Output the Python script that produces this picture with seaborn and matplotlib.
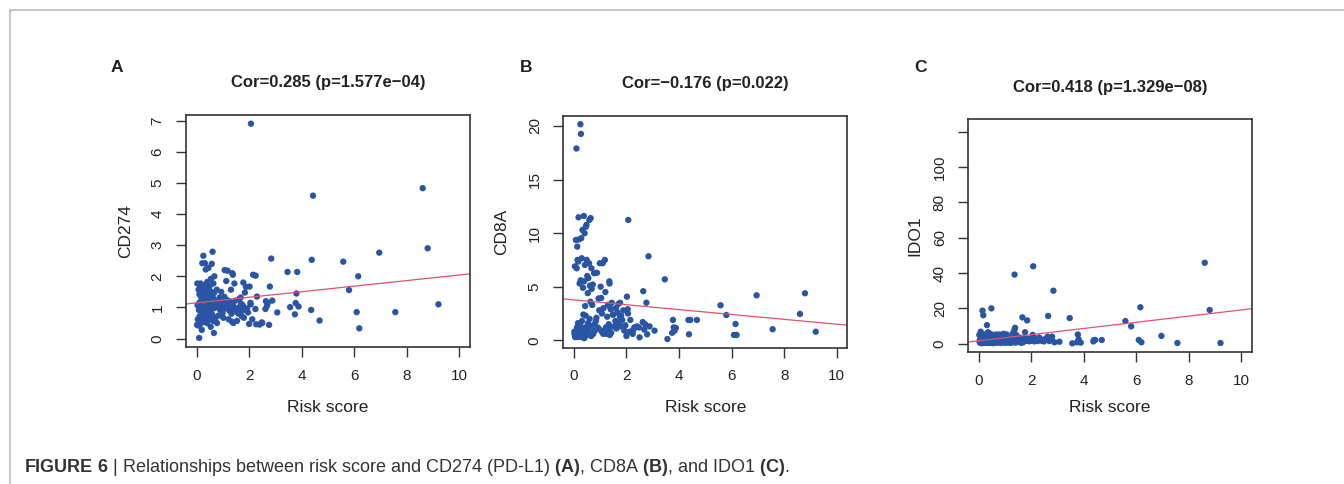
import matplotlib
matplotlib.use("Agg")
import matplotlib.pyplot as plt
from matplotlib.lines import Line2D
import seaborn as sns
import pandas as pd

# ---------------- data (shared risk score per sample) ----------------
# The last two samples lie beyond the drawn x-range (0-10); the reference's
# IDO1 axis reaching ~122 and the fitted lines show such off-scale samples.
risk = [
    0.02, 0.03, 0.04, 0.05, 0.06, 0.07, 0.08, 0.09, 0.10, 0.11,
    0.12, 0.12, 0.13, 0.14, 0.15, 0.15, 0.16, 0.17, 0.18, 0.18,
    0.19, 0.20, 0.20, 0.21, 0.22, 0.23, 0.24, 0.25, 0.26, 0.27,
    0.28, 0.29, 0.30, 0.31, 0.32, 0.33, 0.34, 0.35, 0.36, 0.38,
    0.38, 0.39, 0.40, 0.41, 0.42, 0.43, 0.44, 0.45, 0.46, 0.47,
    0.48, 0.49, 0.50, 0.51, 0.52, 0.53, 0.54, 0.55, 0.56, 0.58,
    0.59, 0.60, 0.61, 0.62, 0.63, 0.64, 0.65, 0.66, 0.67, 0.68,
    0.70, 0.72, 0.74, 0.77, 0.78, 0.80, 0.84,
    0.86, 0.88, 0.90, 0.94, 0.95, 0.97, 0.99, 1.02,
    1.04, 1.06, 1.07, 1.10, 1.12, 1.13, 1.16, 1.18,
    1.20, 1.22, 1.25, 1.27, 1.30, 1.31, 1.33, 1.35,
    1.36, 1.36, 1.37, 1.38, 1.40, 1.42, 1.44, 1.48,
    1.50, 1.54, 1.58, 1.60, 1.62, 1.66, 1.68,
    1.70, 1.72, 1.75, 1.76, 1.78, 1.80, 1.84, 1.88, 1.92, 1.96,
    2.00, 2.02, 2.05, 2.06, 2.07, 2.12, 2.15, 2.24, 2.25, 2.27,
    2.30, 2.40, 2.48, 2.50, 2.62, 2.64, 2.68, 2.71, 2.76, 2.79,
    2.84, 2.88, 3.07, 3.46, 3.56, 3.74, 3.77, 3.80, 3.83, 3.88,
    4.36, 4.38, 4.43, 4.68, 5.58, 5.80, 6.09, 6.15, 6.19, 6.95,
    7.56, 8.60, 8.79, 9.20,
    17.1, 26.0,
]

cd274 = [
    0.44, 1.77, 1.07, 0.62, 1.10, 0.42, 1.57, 0.92, 0.02, 1.42,
    0.72, 0.67, 1.17, 1.67, 0.47, 1.77, 1.00, 1.74, 1.32, 1.47,
    0.57, 0.87, 0.28, 1.52, 2.42, 1.22, 0.77, 1.62, 2.66, 1.02,
    1.37, 0.54, 1.72, 0.82, 2.42, 1.27, 0.67, 2.22, 1.47, 0.97,
    1.57, 1.07, 0.50, 1.82, 1.17, 1.42, 0.72, 2.27, 0.92, 1.27,
    1.12, 1.67, 0.62, 1.37, 0.87, 1.52, 0.38, 1.92, 1.02, 2.40,
    1.22, 0.77, 2.79, 1.32, 0.57, 1.77, 0.97, 0.18, 1.47, 2.00,
    1.07, 0.67, 1.22, 1.57, 0.50, 1.00, 0.74,
    1.17, 1.32, 0.92, 1.50, 1.04, 1.27, 0.82, 0.67,
    1.10, 1.34, 2.20, 1.17, 0.97, 1.85, 1.24, 2.18,
    1.04, 0.62, 0.90, 1.20, 1.07, 1.57, 0.80, 0.54,
    2.10, 1.12, 0.92, 2.05, 0.50, 1.02, 1.77, 1.22,
    0.87, 0.57, 0.97, 0.80, 1.27, 1.04, 1.32,
    1.12, 0.72, 0.90, 1.07, 1.80, 0.67, 1.48, 1.66, 0.97, 0.84,
    0.47, 1.67, 1.15, 1.10, 6.90, 0.62, 2.05, 0.95, 2.02, 0.46,
    1.35, 0.45, 0.52, 0.50, 0.95, 1.20, 1.05, 1.14, 0.44, 1.67,
    2.57, 1.22, 0.84, 2.14, 1.01, 0.78, 1.14, 1.45, 2.14, 1.03,
    0.92, 2.53, 4.59, 0.58, 2.47, 1.56, 0.85, 2.00, 0.33, 2.76,
    0.85, 4.83, 2.90, 1.10,
    2.00, 3.30,
]

cd8a = [
    0.80, 0.55, 6.90, 0.30, 0.50, 0.40, 9.36, 0.90, 17.90, 6.72,
    0.60, 1.20, 8.74, 7.50, 0.40, 0.30, 1.60, 7.34, 11.48, 9.40,
    1.10, 0.70, 0.60, 0.90, 5.30, 0.50, 1.40, 20.16, 5.60, 19.26,
    9.52, 0.30, 7.66, 1.80, 1.00, 10.30, 0.40, 4.90, 2.40, 0.60,
    11.60, 5.50, 0.20, 9.99, 7.03, 3.20, 1.20, 2.30, 10.60, 0.80,
    10.77, 7.50, 1.00, 6.00, 0.50, 4.40, 1.60, 5.80, 0.90, 7.19,
    11.23, 2.00, 5.10, 0.70, 3.60, 11.40, 1.30, 0.40, 6.72, 4.80,
    3.30, 5.20, 0.60, 6.26, 1.50, 0.90, 1.80,
    2.10, 6.30, 1.20, 3.90, 1.10, 2.80, 7.19, 5.00,
    3.95, 0.80, 2.50, 7.20, 0.60, 3.00, 0.90, 7.50,
    4.50, 1.20, 0.60, 2.20, 3.30, 0.90, 1.50, 5.50,
    3.20, 5.30, 0.50, 1.20, 2.90, 0.70, 3.50, 2.40,
    2.40, 1.30, 1.80, 3.00, 1.10, 2.60, 1.70,
    3.40, 1.60, 2.20, 3.50, 1.30, 2.30, 1.90, 2.80, 0.90, 1.40,
    0.40, 4.07, 2.90, 2.50, 11.23, 0.80, 1.90, 0.60, 0.90, 1.00,
    1.20, 1.30, 1.20, 0.28, 1.70, 4.58, 1.00, 1.50, 3.51, 0.56,
    7.84, 1.30, 0.90, 5.69, 0.12, 0.70, 1.90, 1.20, 0.90, 1.15,
    1.90, 0.56, 1.90, 1.90, 3.27, 2.36, 0.50, 1.52, 0.50, 4.20,
    1.03, 2.46, 4.39, 0.80,
    2.00, 2.00,
]

ido1 = [
    5.0, 1.0, 2.2, 0.5, 2.0, 6.8, 3.8, 0.8, 0.3, 2.5,
    1.2, 1.8, 4.2, 18.7, 0.6, 0.4, 2.0, 16.1, 2.5, 3.6,
    0.9, 3.2, 1.1, 1.5, 5.2, 0.7, 2.0, 3.0, 1.3, 0.5,
    2.2, 0.6, 4.6, 10.5, 1.9, 3.0, 0.8, 6.5, 1.4, 1.0,
    2.0, 4.0, 0.4, 2.3, 1.4, 5.6, 0.9, 3.4, 1.7, 0.5,
    20.0, 2.6, 1.2, 4.2, 0.7, 1.8, 0.3, 5.0, 1.5, 2.2,
    3.0, 1.0, 1.8, 0.5, 4.4, 1.2, 0.8, 2.4, 5.2, 1.2,
    2.2, 0.6, 1.8, 0.9, 5.2, 1.4, 0.4,
    3.8, 1.3, 2.4, 5.6, 1.0, 3.1, 0.5, 4.4,
    1.6, 5.2, 0.8, 1.1, 4.0, 0.6, 1.9, 0.9,
    2.5, 0.5, 1.4, 3.3, 6.0, 1.8, 2.2, 0.9,
    39.1, 8.0, 1.2, 9.0, 0.6, 5.0, 2.3, 3.5,
    1.4, 2.6, 3.4, 0.5, 2.0, 14.9, 0.7,
    2.6, 1.9, 3.2, 6.5, 2.0, 1.6, 13.2, 2.8, 1.4, 2.1,
    1.8, 2.0, 5.0, 3.0, 43.8, 1.3, 3.0, 1.5, 2.5, 2.2,
    3.5, 1.6, 1.3, 2.5, 4.0, 15.7, 1.5, 2.0, 3.0, 4.0,
    30.0, 0.8, 1.1, 14.5, 0.2, 0.8, 5.2, 2.5, 1.0, 0.6,
    1.3, 2.0, 2.1, 2.1, 12.8, 9.8, 2.1, 20.6, 0.8, 4.4,
    0.4, 45.8, 19.1, 0.4,
    122.0, 3.8,
]

panel_letters = ["A", "B", "C"]
gene_names = ["CD274", "CD8A", "IDO1"]
titles = ["Cor=0.285 (p=1.577e\u221204)", "Cor=\u22120.176 (p=0.022)",
          "Cor=0.418 (p=1.329e\u221208)"]
x_ticks = [0, 2, 4, 6, 8, 10]
y_ticks = [[0, 1, 2, 3, 4, 5, 6, 7], [0, 5, 10, 15, 20], [0, 20, 40, 60, 80, 100, 120]]
y_ticklabels = [[str(v) for v in y_ticks[0]], [str(v) for v in y_ticks[1]],
                ["0", "20", "40", "60", "80", "100", ""]]
x_label = "Risk score"

df = pd.DataFrame({"risk": risk, "CD274": cd274, "CD8A": cd8a, "IDO1": ido1})

# ---------------- style ----------------
sns.set_theme(style="white")
plt.rcParams["font.family"] = ["Liberation Sans", "DejaVu Sans"]
plt.rcParams["mathtext.fontset"] = "custom"
plt.rcParams["mathtext.rm"] = "Liberation Sans"
plt.rcParams["mathtext.bf"] = "Liberation Sans:bold"

W, H = 1344, 484
fig = plt.figure(figsize=(W / 100, H / 100), dpi=100)
fig.patch.set_facecolor("white")

# axes boxes in pixel coordinates (left, top, right, bottom)
boxes = [(186, 115, 470, 347), (563.3, 116, 847.3, 347.7), (968.3, 119.3, 1252, 352)]
ylims = [(-0.27, 7.18), (-0.69, 20.93), (-4.7, 127.0)]
letter_pos = [(117, 68), (526, 67), (921, 68)]
ylab_right = [133, 509, 922]

point_color = "#2A55A5"
line_color = "#DF536B"
ink = "#222222"

for i in range(3):
    l, t, r, b = boxes[i]
    ax = fig.add_axes([l / W, (H - b) / H, (r - l) / W, (b - t) / H])
    sns.scatterplot(data=df, x="risk", y=gene_names[i], ax=ax, color=point_color,
                    s=21, linewidth=0, edgecolor="none")
    ax.set_xlim(-0.4, 10.4)
    ax.set_ylim(*ylims[i])
    sns.regplot(data=df, x="risk", y=gene_names[i], ax=ax, scatter=False, ci=None,
                truncate=False, line_kws={"color": line_color, "lw": 0.9})
    ax.set_xlim(-0.4, 10.4)
    ax.set_ylim(*ylims[i])
    ax.set_xticks(x_ticks)
    ax.set_xticklabels([str(v) for v in x_ticks])
    ax.set_yticks(y_ticks[i])
    ax.set_yticklabels(y_ticklabels[i])
    ax.tick_params(axis="both", direction="out", length=7, width=1, color="#333333",
                   labelsize=11, labelcolor=ink, pad=8.5, bottom=True, left=True)
    ax.tick_params(axis="y", labelrotation=90)
    for lab in ax.get_yticklabels():
        lab.set_va("center")
    for sp in ax.spines.values():
        sp.set_visible(True)
        sp.set_color("#333333")
        sp.set_linewidth(1.2)
    ax.set_title(titles[i], fontsize=12, fontweight="bold", color=ink, pad=20)
    ax.set_xlabel(x_label, fontsize=12.5, color=ink)
    ax.set_ylabel(gene_names[i], fontsize=12.5, color=ink)
    ax.xaxis.set_label_coords(0.5, (b - 400) / (b - t))
    ax.yaxis.set_label_coords((ylab_right[i] - l) / (r - l), 0.5)
    lx, ly = letter_pos[i]
    fig.text(lx / W, (H - ly) / H, panel_letters[i], fontsize=12.5, fontweight="bold",
             color=ink, ha="center", va="center")

# frame lines of the figure panel
fig.add_artist(Line2D([10 / W, 1.0], [(H - 10) / H, (H - 10) / H], color="#BBBBBB", lw=1.2))
fig.add_artist(Line2D([10 / W, 10 / W], [0, (H - 10) / H], color="#BBBBBB", lw=1.2))

caption = (r"$\mathbf{FIGURE\ 6}$ | Relationships between risk score and CD274 (PD-L1) "
           r"$\mathbf{(A)}$, CD8A $\mathbf{(B)}$, and IDO1 $\mathbf{(C)}$.")
fig.text(24 / W, (H - 467) / H, caption, fontsize=13, color="#333333", ha="left", va="center")

fig.savefig("out.png", dpi=100, facecolor="white")
